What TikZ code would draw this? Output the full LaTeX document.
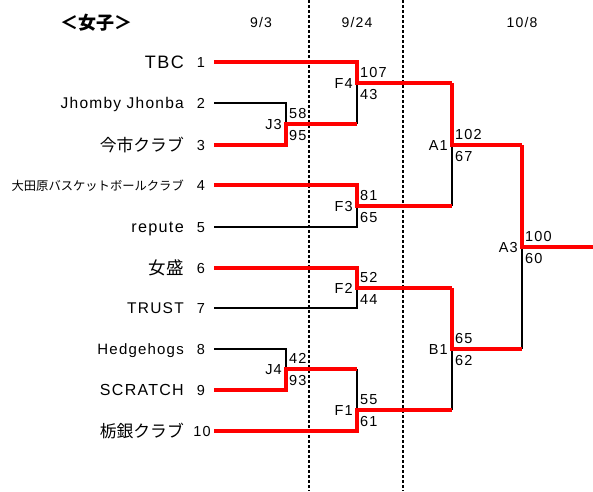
\documentclass[tikz,border=0pt]{standalone}
\usepackage{fontspec}
\setmainfont{Liberation Sans}[LetterSpace=8]
\newfontfamily\jp{Noto Sans CJK JP}
\usetikzlibrary{positioning}

\tikzset{
	gagne/.style={draw=red, line width=4pt},
	perdu/.style={draw=black, line width=2pt},
	pointille/.style={draw=black, line width=1.2pt, dash pattern=on 3pt off 2pt},
	equipe/.style={anchor=base east, inner sep=0pt, yshift=-5.5pt, font=\fontsize{16}{16}\selectfont},
	equipejp/.style={anchor=base east, inner sep=0pt, yshift=-6pt},
	numero/.style={anchor=base, inner sep=0pt, yshift=-5pt, font=\fontsize{14.5}{14}\selectfont},
	match/.style={anchor=base east, inner sep=0pt, xshift=-4pt, yshift=-5pt, font=\fontsize{14.5}{14}\selectfont},
	haut/.style={anchor=base west, inner sep=0pt, xshift=3pt, yshift=6pt, font=\fontsize{14.5}{14}\selectfont},
	bas/.style={anchor=base west, inner sep=0pt, xshift=3pt, yshift=-16pt, font=\fontsize{14.5}{14}\selectfont},
	date/.style={anchor=base, inner sep=0pt, yshift=-5pt, font=\fontsize{14}{14}\selectfont}
}

\begin{document}
\begin{tikzpicture}[x=1pt,y=-1pt]
	\useasboundingbox (0,0) rectangle (593,491);

	% titres
	\node (titre) [anchor=base, inner sep=0pt, yshift=-7pt, font=\jp\bfseries\fontsize{18}{18}\selectfont] at (96,22) {＜女子＞};
	\node (d1) [date] at (261,22) {9/3};
	\node (d2) [date] at (357,22) {9/24};
	\node (d3) [date] at (522,22) {10/8};

	% separations
	\draw [pointille] (309,0) -- (309,491);
	\draw [pointille] (403,0) -- (403,491);

	% equipes
	\node (t1) [equipe, font=\fontsize{18}{18}\selectfont, yshift=-0.5pt] at (184,62) {TBC};
	\node (t2) [equipe, font=\fontsize{15.5}{16}\selectfont] at (184,103) {Jhomby Jhonba};
	\node (t3) [equipejp, font=\jp\fontsize{16.8}{17}\selectfont] at (184,145) {今市クラブ};
	\node (t4) [equipejp, yshift=1pt, font=\jp\fontsize{12.3}{13}\selectfont] at (184,185) {大田原バスケットボールクラブ};
	\node (t5) [equipe, font=\fontsize{16.2}{16}\selectfont] at (184,227) {repute};
	\node (t6) [equipejp, font=\jp\fontsize{17.5}{18}\selectfont] at (184,268) {女盛};
	\node (t7) [equipe, font=\fontsize{15.5}{16}\selectfont] at (184,308) {TRUST};
	\node (t8) [equipe, font=\fontsize{15}{16}\selectfont] at (184,349) {Hedgehogs};
	\node (t9) [equipe] at (184,390) {SCRATCH};
	\node (t10) [equipejp, font=\jp\fontsize{16.8}{17}\selectfont] at (184,431) {栃銀クラブ};

	% numeros
	\node (n1) [numero] at (201,62) {1};
	\node (n2) [numero] at (201,103) {2};
	\node (n3) [numero] at (201,145) {3};
	\node (n4) [numero] at (201,185) {4};
	\node (n5) [numero] at (201,227) {5};
	\node (n6) [numero] at (201,268) {6};
	\node (n7) [numero] at (201,308) {7};
	\node (n8) [numero] at (201,349) {8};
	\node (n9) [numero] at (201,390) {9};
	\node (n10) [numero] at (202,431) {10};

	% departs
	\coordinate (s1) at (214,62);
	\coordinate (s2) at (214,103);
	\coordinate (s3) at (214,145);
	\coordinate (s4) at (214,185);
	\coordinate (s5) at (214,227);
	\coordinate (s6) at (214,268);
	\coordinate (s7) at (214,308);
	\coordinate (s8) at (214,349);
	\coordinate (s9) at (214,390);
	\coordinate (s10) at (214,431);

	% rencontres
	\coordinate (J3) at (286,124);
	\coordinate (J4) at (286,369);
	\coordinate (F4) at (357,83);
	\coordinate (F3) at (357,206);
	\coordinate (F2) at (357,288);
	\coordinate (F1) at (357,410);
	\coordinate (A1) at (452,145);
	\coordinate (B1) at (452,349);
	\coordinate (A3) at (522,247);
	\coordinate (fin) at (593,247);

	% perdants
	\draw [perdu] (s2) -| (J3);
	\draw [perdu] (J3 -| F4) -- (F4);
	\draw [perdu] (s5) -| (F3);
	\draw [perdu] (F3 -| A1) -- (A1);
	\draw [perdu] (s7) -| (F2);
	\draw [perdu] (s8) -| (J4);
	\draw [perdu] (J4 -| F1) -- (F1);
	\draw [perdu] (F1 -| B1) -- (B1);
	\draw [perdu] (B1 -| A3) -- (A3);

	% gagnants
	\draw [gagne] (s3) -| (J3) -- (J3 -| F4);
	\draw [gagne] (s1) -| (F4) -- (F4 -| A1);
	\draw [gagne] (s4) -| (F3) -- (F3 -| A1);
	\draw [gagne] (F4 -| A1) -- (A1) -- (A1 -| A3);
	\draw [gagne] (s6) -| (F2) -- (F2 -| B1);
	\draw [gagne] (s9) -| (J4) -- (J4 -| F1);
	\draw [gagne] (s10) -| (F1) -- (F1 -| B1);
	\draw [gagne] (F2 -| B1) -- (B1) -- (B1 -| A3);
	\draw [gagne] (A1 -| A3) -- (A3) -- (fin);

	% scores
	\node (lJ3) [match] at (J3) {J3};
	\node (hJ3) [haut] at (J3) {58};
	\node (bJ3) [bas] at (J3) {95};
	\node (lJ4) [match] at (J4) {J4};
	\node (hJ4) [haut] at (J4) {42};
	\node (bJ4) [bas] at (J4) {93};
	\node (lF4) [match] at (F4) {F4};
	\node (hF4) [haut] at (F4) {107};
	\node (bF4) [bas] at (F4) {43};
	\node (lF3) [match] at (F3) {F3};
	\node (hF3) [haut] at (F3) {81};
	\node (bF3) [bas] at (F3) {65};
	\node (lF2) [match] at (F2) {F2};
	\node (hF2) [haut] at (F2) {52};
	\node (bF2) [bas] at (F2) {44};
	\node (lF1) [match] at (F1) {F1};
	\node (hF1) [haut] at (F1) {55};
	\node (bF1) [bas] at (F1) {61};
	\node (lA1) [match] at (A1) {A1};
	\node (hA1) [haut] at (A1) {102};
	\node (bA1) [bas] at (A1) {67};
	\node (lB1) [match] at (B1) {B1};
	\node (hB1) [haut] at (B1) {65};
	\node (bB1) [bas] at (B1) {62};
	\node (lA3) [match] at (A3) {A3};
	\node (hA3) [haut] at (A3) {100};
	\node (bA3) [bas] at (A3) {60};
\end{tikzpicture}
\end{document}
